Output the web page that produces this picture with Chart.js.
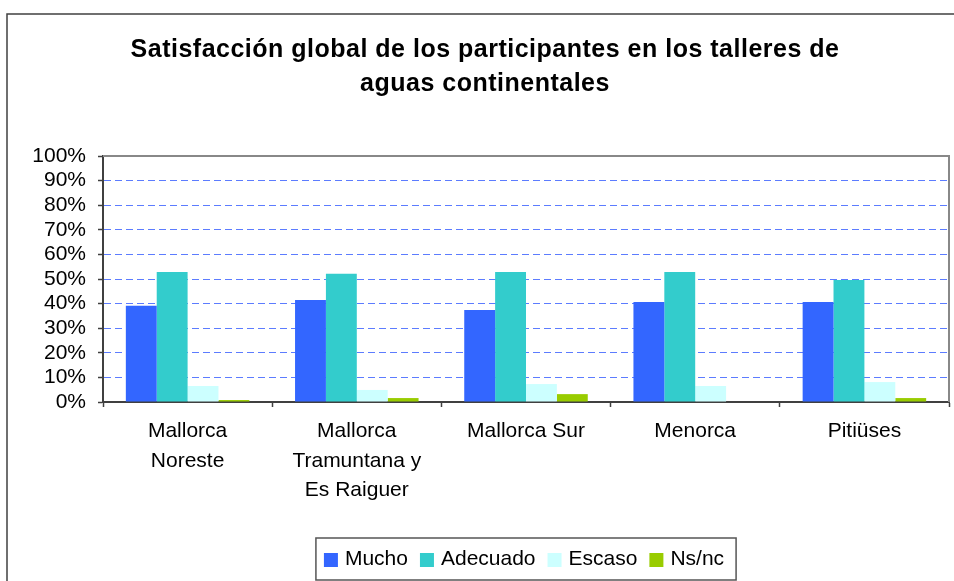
<!DOCTYPE html>
<html>
<head>
<meta charset="utf-8">
<script src="https://cdn.jsdelivr.net/npm/chart.js@4/dist/chart.umd.min.js"></script>
<style>
  html, body { margin: 0; padding: 0; background: #fff; }
  #wrap { width: 954px; height: 581px; }
</style>
</head>
<body>
<div id="wrap"><canvas id="satisfaccionChart" width="954" height="581"></canvas></div>
<script>
const titleLines = [
  'Satisfacción global de los participantes en los talleres de',
  'aguas continentales'
];

const zonas = [
  ['Mallorca', 'Noreste'],
  ['Mallorca', 'Tramuntana y', 'Es Raiguer'],
  'Mallorca Sur',
  'Menorca',
  'Pitiüses'
];

const mucho = [39.1, 41.5, 37.4, 40.7, 40.7];
const adecuado = [52.8, 52.1, 52.8, 52.8, 49.6];
const escaso = [6.5, 4.9, 7.3, 6.5, 8.1];
const nsnc = [0.8, 1.6, 3.2, 0, 1.6];

const seriesNames = ['Mucho', 'Adecuado', 'Escaso', 'Ns/nc'];
const seriesColors = ['#3366FF', '#33CCCC', '#CCFFFF', '#99CC00'];

const FONT = '"Liberation Sans", Arial, sans-serif';
const AXIS = '#404040';

// frame, title and the boxed legend are painted straight on the canvas
const decorations = {
  id: 'decorations',
  beforeDraw(chart) {
    const ctx = chart.ctx;
    ctx.save();
    ctx.fillStyle = '#fff';
    ctx.fillRect(0, 0, chart.width, chart.height);
    ctx.strokeStyle = AXIS;
    ctx.lineWidth = 1.5;
    ctx.strokeRect(7, 14, chart.width + 20, chart.height + 20);
    ctx.restore();
  },
  beforeDatasetsDraw(chart) {
    const { ctx, chartArea } = chart;
    ctx.save();
    ctx.strokeStyle = '#888';
    ctx.lineWidth = 2;
    ctx.beginPath();
    ctx.moveTo(chartArea.left, chartArea.top);
    ctx.lineTo(chartArea.right, chartArea.top);
    ctx.lineTo(chartArea.right, chartArea.bottom);
    ctx.stroke();
    ctx.restore();
  },
  afterDraw(chart) {
    const ctx = chart.ctx;
    ctx.save();

    // title
    ctx.fillStyle = '#000';
    ctx.font = 'bold 25px ' + FONT;
    ctx.letterSpacing = '0.5px';
    ctx.textAlign = 'center';
    ctx.textBaseline = 'alphabetic';
    ctx.fillText(titleLines[0], 485, 57);
    ctx.fillText(titleLines[1], 485, 91);
    ctx.letterSpacing = '0px';

    // legend
    ctx.font = '21px ' + FONT;
    ctx.textAlign = 'left';
    ctx.textBaseline = 'middle';
    const sw = 14, gapText = 7, gapItem = 12;
    const items = chart.data.datasets.map(ds => ({
      label: ds.label,
      color: ds.backgroundColor,
      w: ctx.measureText(ds.label).width
    }));
    const total = items.reduce((s, it) => s + sw + gapText + it.w, 0) + gapItem * (items.length - 1);
    const boxW = total + 20;
    const boxX = 526 - boxW / 2;
    const boxY = 538;
    ctx.strokeStyle = '#555';
    ctx.lineWidth = 1.5;
    ctx.strokeRect(boxX, boxY, boxW, 42);
    let x = boxX + 8;
    const cy = 560;
    items.forEach(it => {
      ctx.fillStyle = it.color;
      ctx.fillRect(x, cy - 7, sw, sw);
      x += sw + gapText;
      ctx.fillStyle = '#000';
      ctx.fillText(it.label, x, cy - 1);
      x += it.w + gapItem;
    });

    ctx.restore();
  }
};

const datasets = [mucho, adecuado, escaso, nsnc].map((values, i) => ({
  label: seriesNames[i],
  data: values,
  backgroundColor: seriesColors[i],
  borderWidth: 0,
  categoryPercentage: 0.73,
  barPercentage: 1
}));

new Chart(document.getElementById('satisfaccionChart'), {
  type: 'bar',
  data: { labels: zonas, datasets },
  plugins: [decorations],
  options: {
    responsive: false,
    devicePixelRatio: 1,
    animation: false,
    layout: { padding: { top: 156, right: 5, bottom: 0, left: 0 } },
    plugins: {
      legend: { display: false },
      title: { display: false },
      tooltip: { enabled: false }
    },
    scales: {
      x: {
        offset: true,
        grid: {
          offset: true,
          drawOnChartArea: false,
          drawTicks: true,
          tickLength: 5,
          tickColor: AXIS,
          tickWidth: 1.5
        },
        border: { color: AXIS, width: 2 },
        ticks: {
          color: '#000',
          font: { family: FONT, size: 21, lineHeight: 1.4 },
          padding: 10,
          maxRotation: 0,
          autoSkip: false
        },
        afterFit(scale) { scale.height = 179; }
      },
      y: {
        min: 0,
        max: 100,
        grid: {
          color: ctx => (ctx.tick && (ctx.tick.value === 0 || ctx.tick.value === 100)) ? 'rgba(0,0,0,0)' : '#5C7CFF',
          lineWidth: 1,
          drawTicks: true,
          tickLength: 5,
          tickColor: AXIS,
          tickWidth: 1.5,
          tickBorderDash: []
        },
        border: { color: AXIS, width: 2, dash: [7, 4] },
        ticks: {
          stepSize: 10,
          autoSkip: false,
          color: '#000',
          padding: 12,
          font: { family: FONT, size: 21 },
          callback: v => v + '%'
        },
        afterFit(scale) { scale.width = 103; }
      }
    }
  }
});
</script>
</body>
</html>
